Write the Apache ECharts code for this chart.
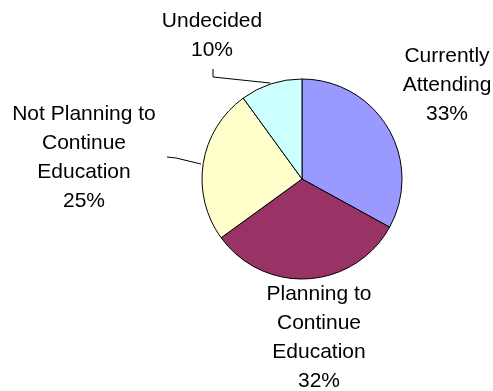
<!DOCTYPE html>
<html><head><meta charset="utf-8">
<script src="https://cdn.jsdelivr.net/npm/echarts@6/dist/echarts.min.js"></script>
<style>html,body{margin:0;padding:0;background:#fff}#c{width:493px;height:391px}</style>
</head><body><div id="c"></div>
<script>
const categories = ["Currently\nAttending", "Planning to\nContinue\nEducation", "Not Planning to\nContinue\nEducation", "Undecided"];
const values = [33, 32, 25, 10];
const colors = ["#9999FF", "#993366", "#FFFFCC", "#CCFFFF"];
// label layout (positions kept separate from data)
const labelPos = [[447, 85], [319, 338], [84, 158], [212, 36]];
const leaderLines = [null, null, [[201, 164], [176, 158], [167, 157]], [[270, 83], [213, 77], [213, 69]]];

const chart = echarts.init(document.getElementById('c'), null, {renderer: 'canvas'});
chart.setOption({
  backgroundColor: '#fff',
  animation: false,
  series: [{
    type: 'pie',
    center: [302, 179],
    radius: 100,
    startAngle: 90,
    clockwise: true,
    percentPrecision: 0,
    avoidLabelOverlap: false,
    itemStyle: {borderColor: '#000', borderWidth: 1},
    label: {
      show: true,
      position: 'outside',
      alignTo: 'none',
      overflow: 'none',
      width: 300,
      formatter: '{b}\n{d}%',
      fontFamily: 'Liberation Sans, Arial, sans-serif',
      fontSize: 21,
      lineHeight: 29,
      color: '#000',
      align: 'center'
    },
    labelLine: {show: true, lineStyle: {color: '#000', width: 1}, smooth: false},
    labelLayout: function (p) {
      const i = p.dataIndex;
      const o = {x: labelPos[i][0], y: labelPos[i][1], align: 'center', verticalAlign: 'middle'};
      if (leaderLines[i]) o.labelLinePoints = leaderLines[i];
      return o;
    },
    emphasis: {disabled: true},
    data: categories.map((c, i) => ({
      name: c, value: values[i],
      itemStyle: {color: colors[i]},
      labelLine: {show: !!leaderLines[i]}
    }))
  }]
});
</script></body></html>
